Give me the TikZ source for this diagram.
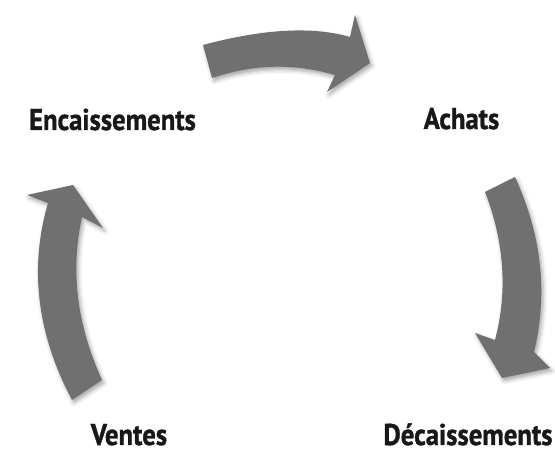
\documentclass[tikz,border=0pt]{standalone}
\usepackage{fontspec}
\setmainfont{PT Sans}[BoldFeatures={FakeBold=1.2}]
\usetikzlibrary{shadows.blur}
\definecolor{arrowgray}{RGB}{112,112,112}
\definecolor{labelink}{RGB}{24,24,24}
\begin{document}
\begin{tikzpicture}[x=1pt,y=-1pt,
  cyclearrow/.style={fill=arrowgray, draw=none,
    blur shadow={shadow xshift=2pt, shadow yshift=-3pt,
      shadow blur radius=4pt, shadow opacity=35}},
  steplabel/.style={font=\bfseries\fontsize{30}{36}\selectfont,
    text=labelink, anchor=base, inner sep=0pt, xscale=0.89}]
\useasboundingbox (0,0) rectangle (555,454);

% the four stages of the cash cycle
\node[steplabel] (enc) at (112.5,130) {Encaissements};
\node[steplabel] (ach) at (461.5,129) {Achats};
\node[steplabel] (dec) at (468,445) {Décaissements};
\node[steplabel] (ven) at (129,445) {Ventes};

% top arrow: Encaissements -> Achats
\path[cyclearrow] (203,45) .. controls (263,29) and (312,26) .. (350,37)
  -- (355,15) -- (370,63) -- (327,92) -- (335,75)
  .. controls (294,63) and (253,64) .. (212,78) -- cycle;

% right arrow: Achats -> Décaissements
\path[cyclearrow] (515,177) .. controls (542,236) and (548,294) .. (534,352)
  -- (550,368) -- (502,378) -- (475,333) -- (495,340)
  .. controls (508,291) and (504,241) .. (485,192) -- cycle;

% left arrow: Ventes -> Encaissements
\path[cyclearrow] (102,380) .. controls (77,325) and (70,271) .. (82,217)
  -- (103,228) -- (73,185) -- (27,195) -- (48,203)
  .. controls (29,268) and (37,334) .. (72,400) -- cycle;
\end{tikzpicture}
\end{document}
